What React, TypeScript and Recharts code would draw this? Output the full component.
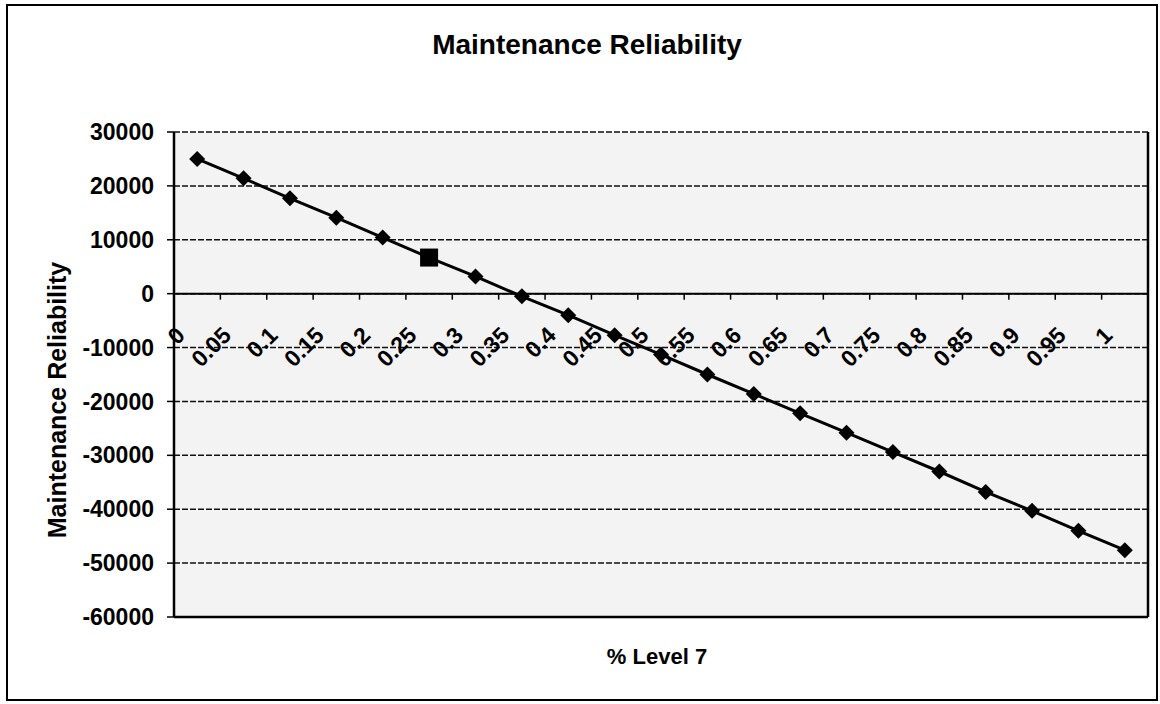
import React from 'react'
import { LineChart, Line, XAxis, YAxis, CartesianGrid, ReferenceLine } from 'recharts'

// % Level 7 categories and the maintenance reliability
const levels = ['0', '0.05', '0.1', '0.15', '0.2', '0.25', '0.3', '0.35', '0.4', '0.45', '0.5',
  '0.55', '0.6', '0.65', '0.7', '0.75', '0.8', '0.85', '0.9', '0.95', '1']
const reliability = [25000, 21400, 17700, 14100, 10400, 6700, 3200, -500, -4000, -7700, -11300,
  -15000, -18600, -22200, -25800, -29400, -33000, -36800, -40300, -44000, -47600]
const yTicks = [30000, 20000, 10000, 0, -10000, -20000, -30000, -40000, -50000, -60000]
const highlightIndex = 5

const data = levels.map((l, i) => ({ level: l, value: reliability[i] }))

const W = 1160
const H = 704
const M = { top: 132, right: 11, bottom: 57, left: 74 }
const YW = 100
const XH = 30
const PW = W - M.left - M.right - YW - 1
const PH = H - M.top - M.bottom - XH
const BAND = PW / levels.length
const Y0 = M.top + PH * (30000 / 90000)
const font = 'Arial, "Liberation Sans", sans-serif'

const XTick = (props: any) => {
  const { x, payload, index } = props
  const ax = x - 11
  const ay = Y0 + 43
  return (
    <g>
      {index < levels.length - 1 && (
        <line x1={x + BAND / 2} x2={x + BAND / 2} y1={Y0} y2={Y0 + 6} stroke="#000" strokeWidth={1.5} />
      )}
      <text x={ax} y={ay} transform={`rotate(-45 ${ax} ${ay})`} textAnchor="end"
        fontSize={23} fontWeight="bold" fontFamily={font} fill="#000">{payload.value}</text>
    </g>
  )
}

const Dot = (props: any) => {
  const { cx, cy, index } = props
  if (index === highlightIndex) {
    return <rect key={index} x={cx - 9} y={cy - 9} width={18} height={18} fill="#000" />
  }
  const r = 8
  return <polygon key={index} points={`${cx},${cy - r} ${cx + r},${cy} ${cx},${cy + r} ${cx - r},${cy}`} fill="#000" />
}

export default function App() {
  return (
    <div style={{ position: 'absolute', left: 0, top: 0, width: W, height: H, background: '#fff', fontFamily: font }}>
      <div style={{ position: 'absolute', left: 6, top: 4, width: 1148, height: 693, border: '2px solid #000' }} />
      <div style={{ position: 'absolute', left: 0, width: 1174, top: 31, textAlign: 'center', fontSize: 28, lineHeight: '28px', fontWeight: 'bold' }}>
        Maintenance Reliability
      </div>
      <div style={{ position: 'absolute', left: 0, width: 1314, top: 646, textAlign: 'center', fontSize: 22, lineHeight: '22px', fontWeight: 'bold' }}>
        % Level 7
      </div>
      <div style={{ position: 'absolute', left: 57 - 200, top: 400 - 14, width: 400, textAlign: 'center', fontSize: 25, lineHeight: '28px', fontWeight: 'bold', transform: 'rotate(-90deg)' }}>
        Maintenance Reliability
      </div>
      <div style={{ position: 'absolute', left: 0, top: 0 }}>
        <LineChart width={W} height={H} data={data} margin={M}>
          <CartesianGrid vertical={false} stroke="#111" strokeWidth={1.5} strokeDasharray="6 2" fill="#f3f3f3" fillOpacity={1} />
          <XAxis dataKey="level" height={XH} interval={0} padding={{ left: BAND / 2, right: BAND / 2 }}
            axisLine={{ stroke: '#000', strokeWidth: 2.5 }} tickLine={false} tick={<XTick />} />
          <YAxis width={YW} domain={[-60000, 30000]} ticks={yTicks} interval={0} tickSize={7} tickMargin={13}
            axisLine={{ stroke: '#000', strokeWidth: 2.5 }} tickLine={{ stroke: '#000', strokeWidth: 1.5 }}
            tick={{ fontSize: 23, fontWeight: 'bold', fill: '#000', fontFamily: font }} />
          <YAxis yAxisId="r" orientation="right" width={1} tick={false} tickLine={false}
            axisLine={{ stroke: '#000', strokeWidth: 2.5 }} />
          <ReferenceLine y={0} stroke="#000" strokeWidth={2} />
          <Line dataKey="value" stroke="#000" strokeWidth={3} dot={<Dot />} activeDot={false} isAnimationActive={false} />
        </LineChart>
      </div>
    </div>
  )
}
